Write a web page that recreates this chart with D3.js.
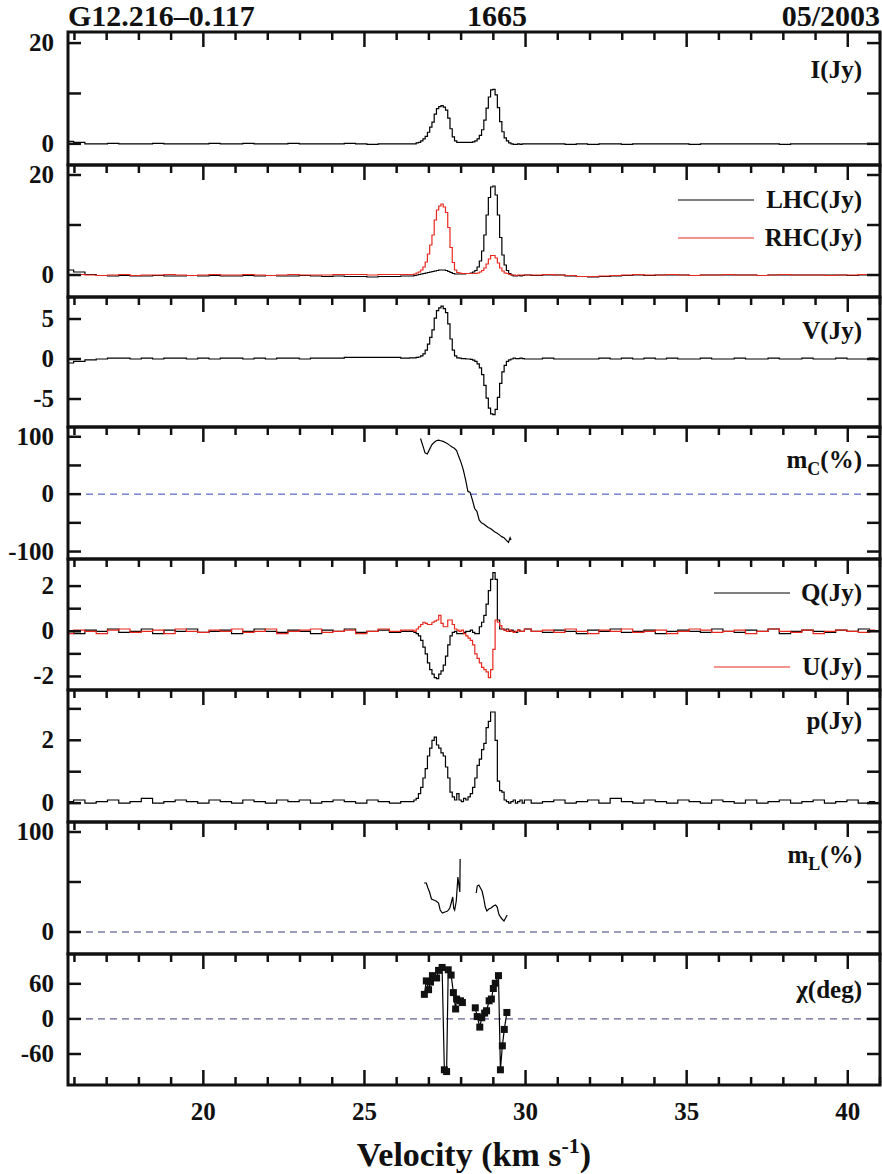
<!DOCTYPE html>
<html>
<head>
<meta charset="utf-8">
<script src="https://cdn.jsdelivr.net/npm/d3@7"></script>
<style>
body { margin: 0; background: #fff; }
svg text { font-family: 'Liberation Serif', 'DejaVu Serif'; font-weight: bold; fill: #111; }
</style>
</head>
<body>
<script>
// velocity grids (km/s)
var peakV = d3.range(50).map(i => 26.5 + 0.07 * i);
var leftV = d3.range(31).map(k => 15.8 + 0.35 * k);
var rightV = d3.range(32).map(k => 30.0 + 0.35 * k);

// baseline channels, left side then right side
var iLeft = [0.5,0.3,0.0,0.0,0.1,0.0,0.0,0.0,0.1,0.0,0.0,0.0,0.0,0.1,0.0,0.0,0.1,0.0,0.0,0.0,0.1,0.0,0.0,0.0,0.0,0.1,0.0,-0.1,0.0,0.0,0.0];
var iRight = [0.0,0.0,0.0,0.0,-0.1,0.0,-0.1,0.0,0.0,-0.1,0.0,0.0,0.0,0.0,0.0,-0.1,0.0,0.0,0.0,0.0,0.0,0.0,0.0,-0.1,0.0,0.0,0.0,0.0,0.0,0.0,0.0,0.0];
var lLeft = [1.0,0.6,0.1,-0.1,-0.2,-0.1,-0.2,-0.2,-0.1,-0.2,-0.2,-0.1,-0.2,-0.1,-0.2,-0.2,-0.1,-0.2,-0.1,-0.2,-0.2,-0.1,-0.2,-0.3,-0.2,-0.3,-0.3,-0.4,-0.3,-0.3,-0.2];
var lRight = [0.0,-0.1,0.0,0.0,-0.2,-0.3,-0.4,-0.3,-0.2,-0.1,0.0,-0.1,0.0,0.0,0.0,-0.1,0.0,0.0,0.0,0.0,0.0,-0.1,0.0,0.0,0.0,0.0,0.0,0.0,0.0,-0.1,0.0,0.0];
var rLeft = [0.0,0.1,0.0,-0.1,0.0,0.1,-0.1,0.0,0.0,0.1,0.0,-0.1,0.0,0.1,0.0,0.0,0.1,0.0,-0.1,0.0,0.1,0.0,0.0,0.0,0.1,0.1,0.1,0.0,0.1,0.1,0.1];
var rRight = [0.0,0.0,0.1,0.0,-0.1,-0.3,-0.3,-0.2,-0.1,0.0,0.1,0.0,0.0,0.1,0.0,-0.1,0.0,0.0,0.1,0.0,0.0,-0.1,0.0,0.1,0.0,0.0,0.0,-0.1,0.0,0.0,0.1,0.0];
var vLeft = [-0.5,-0.3,-0.1,0.0,0.1,0.1,0.0,0.1,0.0,0.1,0.1,0.0,0.1,0.0,0.1,0.1,0.0,0.1,0.0,0.1,0.1,0.0,0.1,0.1,0.1,0.2,0.2,0.2,0.2,0.2,0.1];
var vRight = [0.0,0.0,0.1,0.0,0.0,0.0,0.0,0.1,0.0,0.1,0.0,0.1,0.0,0.1,0.0,0.0,0.1,0.0,0.0,0.1,0.0,0.0,0.1,0.0,0.0,0.1,0.0,0.0,0.1,0.0,0.0,0.1];
var qLeft = [0.0,-0.1,0.05,0.0,0.1,-0.05,0.0,0.1,-0.1,0.05,0.0,0.1,-0.05,0.0,0.05,-0.1,0.0,0.1,0.0,-0.05,0.05,0.0,-0.1,0.05,0.0,0.1,-0.05,0.0,0.05,-0.05,0.0];
var qRight = [0.1,0.0,-0.05,0.05,0.0,-0.1,0.05,0.0,0.1,-0.05,0.0,0.05,-0.1,0.0,0.05,0.0,-0.05,0.1,0.0,-0.05,0.05,0.0,0.1,-0.1,0.0,0.05,0.0,-0.05,0.05,0.0,0.1,0.0];
var uLeft = [-0.1,0.05,0.0,-0.1,0.05,0.1,-0.05,0.0,0.05,-0.1,0.1,0.0,-0.05,0.05,0.0,0.1,-0.05,0.0,0.1,-0.1,0.0,0.05,0.1,-0.05,0.0,0.05,-0.1,0.0,0.1,0.0,0.05];
var uRight = [0.1,0.0,0.05,-0.05,0.1,0.0,-0.1,0.05,0.0,0.1,-0.05,0.0,0.05,-0.1,0.0,0.1,0.05,-0.05,0.0,0.05,-0.1,0.0,0.1,0.0,-0.05,0.05,-0.1,0.0,0.05,0.0,-0.05,0.05];
var pLeft = [0.05,0.1,0.0,0.05,0.1,0.0,0.05,0.15,0.0,0.05,0.1,0.05,0.0,0.1,0.05,0.0,0.1,0.05,0.0,0.1,0.05,0.1,0.0,0.05,0.1,0.05,0.0,0.1,0.05,0.0,0.05];
var pRight = [0.1,0.0,0.05,0.1,0.0,0.05,0.1,0.0,0.15,0.05,0.0,0.1,0.05,0.0,0.1,0.05,0.0,0.1,0.05,0.0,0.1,0.0,0.05,0.1,0.0,0.05,0.1,0.0,0.05,0.1,0.0,0.05];

// maser features, channel by channel on peakV
var iPeak = [0.0,0.0,0.2,0.3,0.6,1.0,1.5,2.3,3.3,4.3,5.9,7.0,7.4,7.6,7.3,6.7,5.1,3.0,1.4,0.6,0.3,0.3,0.3,0.3,0.3,0.3,0.3,0.4,0.6,1.0,1.7,2.8,4.7,7.1,9.3,10.7,10.8,9.7,7.2,4.4,2.4,1.2,0.6,0.2,0.0,-0.1,-0.1,0.0,-0.1,0.0];
var lPeak = [-0.2,-0.1,0.0,0.1,0.2,0.3,0.4,0.5,0.6,0.7,0.8,0.9,1.0,1.0,1.0,0.9,0.7,0.5,0.3,0.2,0.2,0.2,0.2,0.2,0.3,0.3,0.4,0.6,0.9,1.6,2.8,4.8,8.0,12.0,15.5,17.6,17.8,16.0,12.0,7.5,4.0,2.0,0.9,0.3,0.0,-0.2,-0.2,-0.1,-0.2,-0.1];
var rPeak = [0.1,0.2,0.4,0.6,1.0,1.6,2.6,4.2,6.0,8.0,11.0,13.0,13.8,14.2,13.6,12.5,9.5,5.5,2.5,1.0,0.5,0.4,0.3,0.3,0.3,0.3,0.3,0.3,0.3,0.4,0.6,0.9,1.4,2.2,3.2,3.9,3.9,3.4,2.4,1.4,0.8,0.4,0.3,0.1,0.0,0.0,-0.1,0.0,0.0,0.0];
var vPeak = [0.15,0.15,0.2,0.25,0.4,0.65,1.1,1.85,2.7,3.65,5.1,6.05,6.4,6.6,6.3,5.8,4.4,2.5,1.1,0.4,0.15,0.1,0.05,0.05,0,0,-0.05,-0.15,-0.3,-0.6,-1.1,-1.95,-3.3,-4.9,-6.15,-6.85,-6.95,-6.3,-4.8,-3.05,-1.6,-0.8,-0.3,-0.1,0,0.1,0.05,0.05,0.1,0.05];
var qPeak = [0.0,-0.05,-0.1,-0.2,-0.4,-0.7,-1.0,-1.4,-1.7,-1.9,-2.05,-2.1,-1.9,-1.75,-1.5,-1.1,-0.6,-0.2,-0.05,0.0,-0.1,-0.1,-0.1,-0.05,0.0,0.0,0.05,-0.05,-0.1,-0.1,0.2,0.4,0.7,1.2,1.8,2.3,2.6,2.3,0.5,0.1,0.1,0.05,0.1,0.0,0.05,0.0,-0.05,0.05,0.0,0.0];
var uPeak = [0.05,0.0,0.1,0.2,0.3,0.4,0.35,0.3,0.3,0.4,0.45,0.5,0.7,0.35,0.2,0.2,0.5,0.5,0.3,0.1,0.05,0.0,0.05,-0.1,-0.2,-0.3,-0.4,-0.6,-1.0,-1.2,-1.4,-1.6,-1.7,-1.8,-2.05,-1.7,-0.8,0.5,0.4,0.25,0.1,0.05,0.0,0.05,0.0,-0.05,0.0,0.05,0.0,0.0];
var pPeak = [0.05,0.1,0.15,0.3,0.5,0.8,1.1,1.5,1.75,2.0,2.1,1.85,1.75,1.6,1.5,1.15,0.8,0.35,0.2,0.1,0.3,0.1,0.05,0.15,0.1,0.2,0.3,0.5,0.8,1.2,1.4,1.7,1.9,2.4,2.6,2.9,2.9,2.0,0.7,0.4,0.35,0.1,0.05,0.0,0.05,0.1,0.0,0.05,0.1,0.0];

// fractional circular polarisation (%)
var mcV = [26.74,26.81,26.88,26.95,27.02,27.09,27.16,27.23,27.30,27.37,27.44,27.51,27.58,27.65,27.72,27.79,27.86,27.93,28.00,28.07,28.14,28.21,28.28,28.35,28.42,28.49,28.56,28.63,28.70,28.77,28.84,28.91,28.98,29.05,29.12,29.19,29.26,29.33,29.40,29.47,29.52,29.55];
var mcVal = [97,85,72,70,78,86,90,93,94,93,92,90,88,85,82,80,76,65,55,42,25,5,3,-10,-25,-30,-45,-50,-52,-55,-58,-60,-63,-66,-68,-71,-74,-76,-80,-84,-76,-80];

// fractional linear polarisation (%), two segments
var mlV1 = [26.85,26.92,26.97,27.02,27.08,27.15,27.22,27.30,27.35,27.42,27.50,27.58,27.65,27.70,27.74,27.77,27.80,27.85,27.90,27.96,27.97];
var mlVal1 = [49,49,44,40,33,32,31,29,22,19,20,21,24,30,35,24,22,31,55,40,73];
var mlV2 = [28.47,28.50,28.55,28.60,28.65,28.70,28.75,28.80,28.86,28.93,29.00,29.07,29.12,29.17,29.22,29.27,29.33,29.38,29.43];
var mlVal2 = [39,46,47,44,41,34,25,21,23,24,26,27,25,18,15,13,11,14,17];

// polarisation angle (deg), two segments
var chiV1 = [26.86,26.92,26.99,27.05,27.11,27.24,27.30,27.41,27.48,27.55,27.60,27.69,27.76,27.83,27.86,27.98,28.04];
var chiVal1 = [42,65,50,63,74,70,83,88,-87,-90,84,75,45,17,34,31,28];
var chiV2 = [28.44,28.50,28.58,28.64,28.73,28.79,28.87,28.94,29.00,29.06,29.16,29.22,29.28,29.34,29.42];
var chiVal2 = [19,4,-14,2,10,14,31,34,52,61,74,-87,-46,-18,11];

var xTicks = [20, 25, 30, 35, 40];

function join(l, p, r) {
  var out = [];
  leftV.forEach((v, i) => out.push([v, l[i]]));
  peakV.forEach((v, i) => out.push([v, p[i]]));
  rightV.forEach((v, i) => out.push([v, r[i]]));
  return out;
}
function zip(vs, ys) { return vs.map((v, i) => [v, ys[i]]); }

var width = 882, height = 1174, left = 68, right = 880;
var FONT = "'Liberation Serif', 'DejaVu Serif'";

var svg = d3.select("body").append("svg")
  .attr("width", width)
  .attr("height", height);

var x = d3.scaleLinear().domain([15.8, 41]).range([left, right]);

var panels = [
  { top: 32, bot: 165, dom: [-4.2, 22.2], ticks: [0, 10, 20], labels: [0, 20],
    lines: [{ d: join(iLeft, iPeak, iRight), c: "#000" }],
    text: [{ t: "I(Jy)", y: 78 }] },
  { top: 165, bot: 297, dom: [-4.4, 22], ticks: [0, 10, 20], labels: [0, 20],
    lines: [{ d: join(lLeft, lPeak, lRight), c: "#000" }, { d: join(rLeft, rPeak, rRight), c: "#e8281e" }],
    text: [{ t: "LHC(Jy)", y: 208, leg: "#000" }, { t: "RHC(Jy)", y: 246, leg: "#e8281e" }] },
  { top: 297, bot: 427, dom: [-8.5, 7.75], ticks: [-5, 0, 5], labels: [-5, 0, 5],
    lines: [{ d: join(vLeft, vPeak, vRight), c: "#000" }],
    text: [{ t: "V(Jy)", y: 339 }] },
  { top: 427, bot: 559, dom: [-113, 117], ticks: [-100, -50, 0, 50, 100], labels: [-100, 0, 100],
    zero: "#3344bb",
    lines: [{ d: zip(mcV, mcVal), c: "#000", plain: true }],
    text: [{ t: "m", sub: "C", tail: "(%)", y: 468 }] },
  { top: 559, bot: 690, dom: [-2.6, 3.2], ticks: [-2, -1, 0, 1, 2], labels: [-2, 0, 2],
    lines: [{ d: join(qLeft, qPeak, qRight), c: "#000" }, { d: join(uLeft, uPeak, uRight), c: "#e8281e" }],
    text: [{ t: "Q(Jy)", y: 601, leg: "#000" }, { t: "U(Jy)", y: 675, leg: "#e8281e" }] },
  { top: 690, bot: 822, dom: [-0.6, 3.6], ticks: [0, 1, 2, 3], labels: [0, 2],
    lines: [{ d: join(pLeft, pPeak, pRight), c: "#000" }],
    text: [{ t: "p(Jy)", y: 729 }] },
  { top: 822, bot: 954, dom: [-22, 110], ticks: [0, 50, 100], labels: [0, 100],
    zero: "#3a3a7a",
    lines: [{ d: zip(mlV1, mlVal1), c: "#000", plain: true }, { d: zip(mlV2, mlVal2), c: "#000", plain: true }],
    text: [{ t: "m", sub: "L", tail: "(%)", y: 863 }] },
  { top: 954, bot: 1085, dom: [-113, 111], ticks: [-60, 0, 60], labels: [-60, 0, 60],
    zero: "#3a3a7a",
    lines: [{ d: zip(chiV1, chiVal1), c: "#000", plain: true, dots: true }, { d: zip(chiV2, chiVal2), c: "#000", plain: true, dots: true }],
    text: [{ t: "χ(deg)", y: 998 }] }
];

panels.forEach(function(p, k) {
  var y = d3.scaleLinear().domain(p.dom).range([p.bot, p.top]);
  var g = svg.append("g");
  var clipId = "clip" + k;
  svg.append("clipPath").attr("id", clipId).append("rect")
    .attr("x", left).attr("y", p.top).attr("width", right - left).attr("height", p.bot - p.top);

  if (p.zero) {
    g.append("line").attr("x1", left + 6).attr("x2", right).attr("y1", y(0)).attr("y2", y(0))
      .attr("stroke", p.zero).attr("stroke-width", 1).attr("stroke-dasharray", "7,5");
  }

  var plot = g.append("g").attr("clip-path", "url(#" + clipId + ")");
  p.lines.forEach(function(s) {
    var line = d3.line().x(d => x(d[0])).y(d => y(d[1]))
      .curve(s.plain ? d3.curveLinear : d3.curveStep);
    plot.append("path").datum(s.d).attr("d", line)
      .attr("fill", "none").attr("stroke", s.c).attr("stroke-width", 1.2);
    if (s.dots) {
      plot.selectAll(null).data(s.d).enter().append("rect")
        .attr("x", d => x(d[0]) - 3.5).attr("y", d => y(d[1]) - 3.5)
        .attr("width", 7).attr("height", 7).attr("fill", "#111");
    }
  });

  // y ticks, inward on both sides
  p.ticks.forEach(function(t) {
    g.append("line").attr("x1", left).attr("x2", left + 13).attr("y1", y(t)).attr("y2", y(t))
      .attr("stroke", "#111").attr("stroke-width", 2.5);
    g.append("line").attr("x1", right - 13).attr("x2", right).attr("y1", y(t)).attr("y2", y(t))
      .attr("stroke", "#111").attr("stroke-width", 2.5);
  });
  p.labels.forEach(function(t) {
    g.append("text").attr("font-family", FONT).attr("x", left - 14).attr("y", y(t) + 8)
      .attr("text-anchor", "end").attr("font-size", 25).text(t);
  });

  // x ticks along the top edge
  var xt = d3.range(16, 42, 1);
  xt.forEach(function(v) {
    var len = v % 5 === 0 ? 15 : 8;
    g.append("line").attr("x1", x(v)).attr("x2", x(v)).attr("y1", p.top).attr("y2", p.top + len)
      .attr("stroke", "#111").attr("stroke-width", 2.5);
    if (k === panels.length - 1) {
      g.append("line").attr("x1", x(v)).attr("x2", x(v)).attr("y1", p.bot).attr("y2", p.bot - len)
        .attr("stroke", "#111").attr("stroke-width", 2.5);
    }
  });

  g.append("rect").attr("x", left).attr("y", p.top).attr("width", right - left).attr("height", p.bot - p.top)
    .attr("fill", "none").attr("stroke", "#111").attr("stroke-width", 3);

  p.text.forEach(function(t) {
    var tx = g.append("text").attr("font-family", FONT).attr("x", 862).attr("y", t.y)
      .attr("text-anchor", "end").attr("font-size", 25);
    if (t.sub) {
      tx.append("tspan").text(t.t);
      tx.append("tspan").attr("font-size", 18).attr("dy", 7).text(t.sub);
      tx.append("tspan").attr("dy", -7).text(t.tail);
    } else {
      tx.text(t.t);
    }
    if (t.leg) {
      var x1 = t.t.length > 5 ? 678 : 714;
      g.append("line").attr("x1", x1).attr("x2", x1 + 76).attr("y1", t.y - 8).attr("y2", t.y - 8)
        .attr("stroke", t.leg).attr("stroke-width", 1.2);
    }
  });

  if (k === panels.length - 1) {
    xTicks.forEach(function(v) {
      svg.append("text").attr("font-family", FONT).attr("x", x(v)).attr("y", p.bot + 35)
        .attr("text-anchor", "middle").attr("font-size", 25).text(v);
    });
  }
});

svg.append("text").attr("font-family", FONT).attr("x", 68).attr("y", 26).attr("font-size", 30).text("G12.216–0.117");
svg.append("text").attr("font-family", FONT).attr("x", 497).attr("y", 26).attr("text-anchor", "middle").attr("font-size", 30).text("1665");
svg.append("text").attr("font-family", FONT).attr("x", 880).attr("y", 26).attr("text-anchor", "end").attr("font-size", 30).text("05/2003");

var xl = svg.append("text").attr("font-family", FONT).attr("x", 474).attr("y", 1166)
  .attr("text-anchor", "middle").attr("font-size", 34);
xl.append("tspan").text("Velocity (km s");
xl.append("tspan").attr("font-size", 22).attr("dy", -13).text("-1");
xl.append("tspan").attr("dy", 13).text(")");
</script>
</body>
</html>
